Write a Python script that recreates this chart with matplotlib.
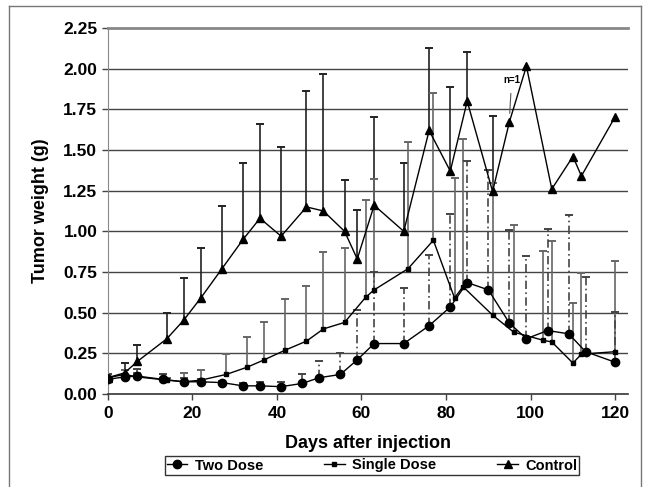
import numpy as np
import matplotlib
matplotlib.use('Agg')
import matplotlib.pyplot as plt
from matplotlib.lines import Line2D

plt.rcParams['font.family'] = ['Liberation Sans', 'DejaVu Sans']
plt.rcParams['font.weight'] = 'bold'

# Two Dose
two_days = [0, 4, 7, 13, 18, 22, 27, 32, 36, 41, 46, 50, 55, 59, 63, 70, 76, 81, 85, 90, 95, 99, 104, 109, 113, 120]
two_vals = [0.09, 0.105, 0.11, 0.09, 0.075, 0.075, 0.07, 0.05, 0.05, 0.045, 0.065, 0.10, 0.12, 0.21, 0.31, 0.31,
            0.42, 0.535, 0.685, 0.64, 0.435, 0.34, 0.39, 0.37, 0.26, 0.195]
two_top = [0.12, 0.12, 0.155, 0.12, 0.10, 0.09, 0.08, 0.07, 0.075, 0.075, 0.12, 0.20, 0.255, 0.515, 0.75, 0.65,
           0.855, 1.105, 1.43, 1.375, 1.01, 0.85, 1.015, 1.10, 0.72, 0.505]

# Single Dose
single_days = [0, 4, 7, 14, 18, 22, 28, 33, 37, 42, 47, 51, 56, 61, 63, 71, 77, 82, 84, 91, 96, 103, 105, 110, 112, 120]
single_vals = [0.10, 0.12, 0.105, 0.085, 0.075, 0.085, 0.12, 0.165, 0.21, 0.27, 0.325, 0.40, 0.44, 0.595, 0.64, 0.77,
               0.945, 0.59, 0.66, 0.485, 0.38, 0.33, 0.32, 0.19, 0.245, 0.26]
single_top = [0.12, 0.15, 0.13, 0.10, 0.13, 0.15, 0.245, 0.35, 0.44, 0.585, 0.665, 0.875, 0.90, 1.19, 1.32, 1.55,
              1.85, 1.33, 1.565, 1.30, 1.04, 0.88, 0.94, 0.56, 0.745, 0.82]

# Control
ctrl_days = [0, 4, 7, 14, 18, 22, 27, 32, 36, 41, 47, 51, 56, 59, 63, 70, 76, 81, 85, 91, 95, 99, 105, 110, 112, 120]
ctrl_vals = [0.10, 0.13, 0.20, 0.34, 0.455, 0.59, 0.77, 0.95, 1.08, 0.97, 1.15, 1.125, 1.00, 0.83, 1.16, 1.00,
             1.62, 1.37, 1.80, 1.245, 1.675, 2.015, 1.26, 1.46, 1.34, 1.705]
ctrl_top = [0.125, 0.19, 0.30, 0.495, 0.71, 0.895, 1.155, 1.42, 1.66, 1.52, 1.86, 1.97, 1.315, 1.13, 1.70, 1.42,
            2.125, 1.89, 2.10, 1.71]  # no error bars after day 91

fig = plt.figure(figsize=(6.47, 4.87), dpi=100)
ax = fig.add_axes([0.1665, 0.191, 0.804, 0.7515])

# outer frame
fc = '#777777'
fig.add_artist(Line2D([9/647, 641/647], [1-6/487, 1-6/487], color=fc, lw=1, transform=fig.transFigure))
fig.add_artist(Line2D([9/647, 9/647], [0, 1-6/487], color=fc, lw=1, transform=fig.transFigure))
fig.add_artist(Line2D([641/647, 641/647], [0, 1-6/487], color=fc, lw=1, transform=fig.transFigure))

# grid lines
for g in np.arange(0.25, 2.0001, 0.25):
    ax.axhline(g, color='#444444', lw=1.0, zorder=0)

# upper error bars
n = len(ctrl_top)
ax.vlines(ctrl_days[:n], ctrl_vals[:n], ctrl_top, color='#222222', lw=1.2, zorder=1)
ax.plot(ctrl_days[:n], ctrl_top, ls='none', marker='_', ms=6, mew=1.4, color='#222222', zorder=1)
ax.vlines(single_days, single_vals, single_top, color='#666666', lw=1.2, zorder=1)
ax.plot(single_days, single_top, ls='none', marker='_', ms=6, mew=1.4, color='#666666', zorder=1)
ax.vlines(two_days, two_vals, two_top, color='#444444', lw=1.2, linestyles=(0, (5, 2, 1, 2)), zorder=1)
ax.plot(two_days, two_top, ls='none', marker='_', ms=6, mew=1.4, color='#444444', zorder=1)

# series
ax.plot(two_days, two_vals, color='black', lw=1.0, marker='o', ms=6, label='Two Dose', zorder=3)
ax.plot(single_days, single_vals, color='black', lw=1.0, marker='s', ms=3, label='Single Dose', zorder=3)
ax.plot(ctrl_days, ctrl_vals, color='black', lw=1.0, marker='^', ms=6, label='Control', zorder=3)

ax.annotate('n=1', xy=(95, 1.70), xytext=(95.5, 1.93), fontsize=7, fontweight='bold', ha='center', va='center',
            arrowprops=dict(arrowstyle='-', color='#555555', lw=0.8, shrinkA=4, shrinkB=3))

ax.set_xlim(0, 123)
ax.set_ylim(0, 2.25)
ax.set_xticks([0, 20, 40, 60, 80, 100, 120])
ax.set_yticks(np.arange(0, 2.2501, 0.25))
ax.set_yticklabels([f'{v:.2f}' for v in np.arange(0, 2.2501, 0.25)])
ax.tick_params(axis='both', direction='out', length=4, width=1, labelsize=12.5, colors='#444444', labelcolor='black')
ax.tick_params(axis='x', pad=5)

ax.spines['right'].set_visible(False)
ax.spines['top'].set_color('#888888')
ax.spines['top'].set_linewidth(2)
ax.spines['left'].set_color('#888888')
ax.spines['bottom'].set_color('#333333')
ax.spines['bottom'].set_linewidth(1.2)

ax.set_xlabel('Days after injection', fontsize=13, fontweight='bold', labelpad=10)
ax.set_ylabel('Tumor weight (g)', fontsize=13, fontweight='bold', labelpad=10)

leg = fig.legend(loc='center', bbox_to_anchor=(372/647, 1-465.5/487), ncol=3, frameon=True, fancybox=False,
                 shadow=False, edgecolor='black', fontsize=10.5, handlelength=1.4, columnspacing=4.2,
                 borderpad=0.15, handletextpad=0.5, borderaxespad=0)
leg.get_frame().set_linewidth(1.0)
for t in leg.get_texts():
    t.set_fontweight('bold')

fig.savefig('out.png', dpi=100)
